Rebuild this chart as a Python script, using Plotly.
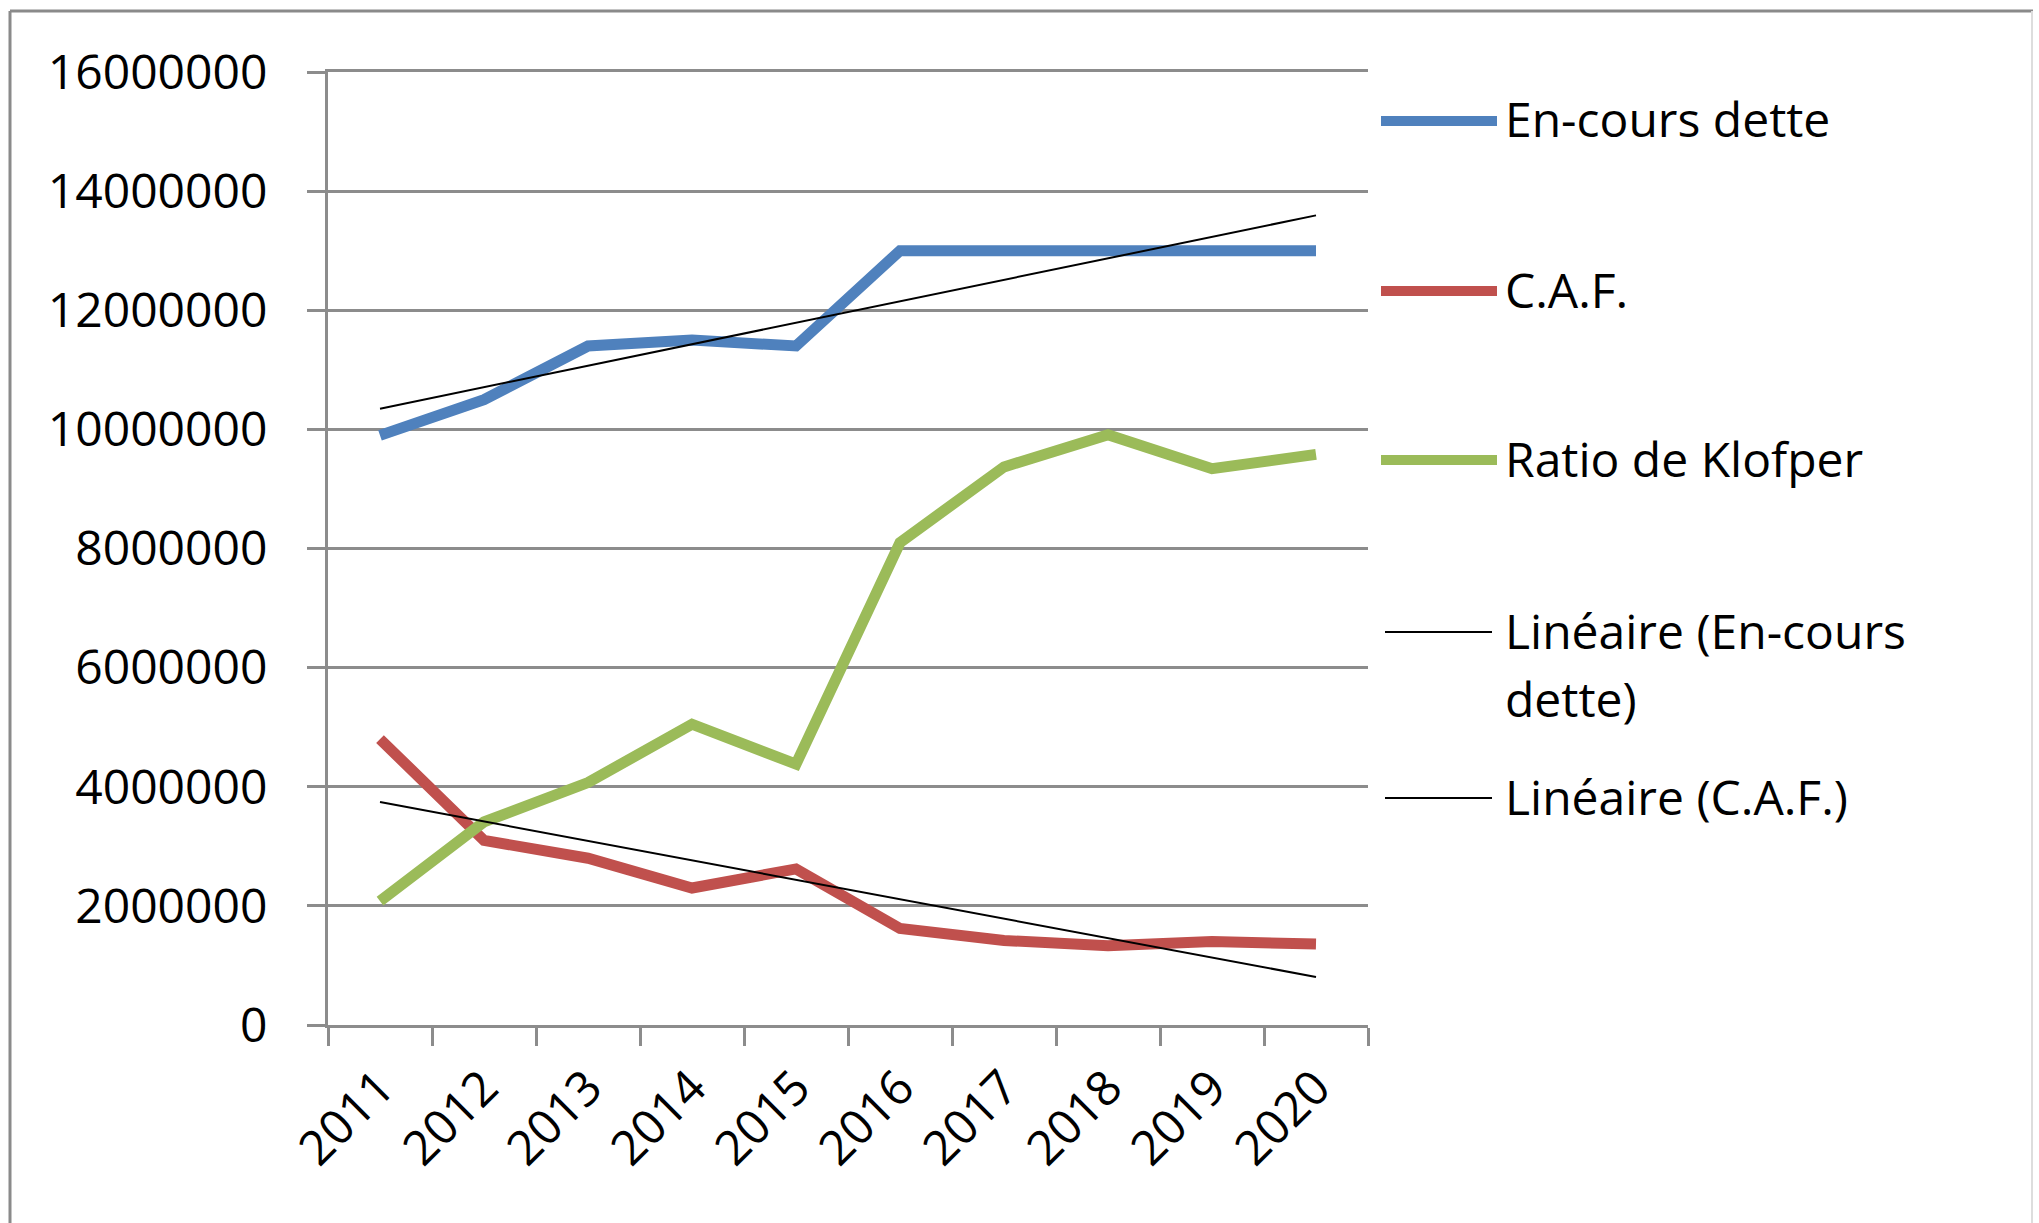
import numpy as np
import plotly.graph_objects as go

# ---- data ----
years = ["2011", "2012", "2013", "2014", "2015", "2016", "2017", "2018", "2019", "2020"]
encours_dette = [9900000, 10500000, 11400000, 11500000, 11400000, 13000000, 13000000, 13000000, 13000000, 13000000]
caf = [4800000, 3100000, 2800000, 2300000, 2620000, 1620000, 1420000, 1330000, 1400000, 1360000]
ratio_klopfer = [2080000, 3410000, 4070000, 5050000, 4380000, 8100000, 9370000, 9910000, 9340000, 9580000]

series_names = ["En-cours dette", "C.A.F.", "Ratio de Klofper"]
trend_names = ["Linéaire (En-cours", "dette)", "Linéaire (C.A.F.)"]
series_colors = ["#4F81BD", "#C0504D", "#9BBB59"]

y_tick_values = [0, 2000000, 4000000, 6000000, 8000000, 10000000, 12000000, 14000000, 16000000]
y_tick_labels = [str(v) for v in y_tick_values]

# ---- page geometry (pixels) ----
W, H = 2039, 1223
L, R, T, B = 328, 671, 72, 198
PW, PH = W - L - R, H - T - B
GRID = "#8C8C8C"
FONT = "Open Sans"
FS = 48


def px(xp):
    return (xp - L) / PW


def py(yp):
    return (H - B - yp) / PH


# linear trendlines (least squares over the category index)
idx = np.arange(1, len(years) + 1)
trend_dette = np.polyval(np.polyfit(idx, encours_dette, 1), idx)
trend_caf = np.polyval(np.polyfit(idx, caf, 1), idx)

fig = go.Figure()
for name, vals, col in zip(series_names, [encours_dette, caf, ratio_klopfer], series_colors):
    fig.add_trace(go.Scatter(x=years, y=vals, mode="lines", name=name,
                             line=dict(color=col, width=11), showlegend=False))
for vals in [trend_dette, trend_caf]:
    fig.add_trace(go.Scatter(x=years, y=vals, mode="lines",
                             line=dict(color="black", width=2), showlegend=False))

# ---- hand-laid legend on the right ----
shapes = []
annotations = []
legend_rows = [
    (series_names[0], series_colors[0], 10, 121, 1381, 1497),
    (series_names[1], series_colors[1], 10, 291, 1381, 1497),
    (series_names[2], series_colors[2], 10, 460, 1381, 1497),
    (trend_names[0], "black", 2, 632, 1385, 1492),
    (trend_names[2], "black", 2, 798, 1385, 1492),
]
for text, col, lw, yc, x0, x1 in legend_rows:
    shapes.append(dict(type="line", xref="paper", yref="paper",
                       x0=px(x0), x1=px(x1), y0=py(yc), y1=py(yc),
                       line=dict(color=col, width=lw)))
    annotations.append(dict(xref="paper", yref="paper", x=px(1503), y=py(yc - 2),
                            text=text, showarrow=False, xanchor="left", yanchor="middle",
                            font=dict(family=FONT, size=FS, color="black")))
annotations.append(dict(xref="paper", yref="paper", x=px(1503), y=py(698),
                        text=trend_names[1], showarrow=False, xanchor="left", yanchor="middle",
                        font=dict(family=FONT, size=FS, color="black")))

# outer chart frame (bottom edge runs off the page)
shapes.append(dict(type="line", xref="paper", yref="paper", x0=px(10), x1=px(2033),
                   y0=py(11), y1=py(11), line=dict(color="#8A8A8A", width=3)))
shapes.append(dict(type="line", xref="paper", yref="paper", x0=px(10), x1=px(10),
                   y0=py(11), y1=py(1240), line=dict(color="#8A8A8A", width=3)))
shapes.append(dict(type="line", xref="paper", yref="paper", x0=px(2032), x1=px(2032),
                   y0=py(11), y1=py(1240), line=dict(color="#DDDDDD", width=2)))

fig.update_layout(
    width=W, height=H,
    margin=dict(l=L, r=R, t=T, b=B, pad=0),
    paper_bgcolor="white", plot_bgcolor="white",
    font=dict(family=FONT, size=FS, color="black"),
    shapes=shapes, annotations=annotations,
    showlegend=False,
)
fig.update_xaxes(
    type="category", range=[-0.5, len(years) - 0.5],
    showline=True, linecolor=GRID, linewidth=3, mirror=True,
    ticks="outside", tickson="boundaries", ticklen=18, tickwidth=3, tickcolor=GRID,
    showgrid=False, tickangle=-45, automargin=False, ticklabelstandoff=12,
    tickfont=dict(family=FONT, size=FS, color="black"),
)
fig.update_yaxes(
    range=[0, 16000000], tickvals=y_tick_values, ticktext=y_tick_labels,
    showline=True, linecolor=GRID, linewidth=3,
    ticks="outside", ticklen=18, tickwidth=3, tickcolor=GRID,
    showgrid=True, gridcolor=GRID, gridwidth=3, zeroline=False,
    automargin=False, ticklabelstandoff=30,
    tickfont=dict(family=FONT, size=FS, color="black"),
)

fig.write_html("out.html")
